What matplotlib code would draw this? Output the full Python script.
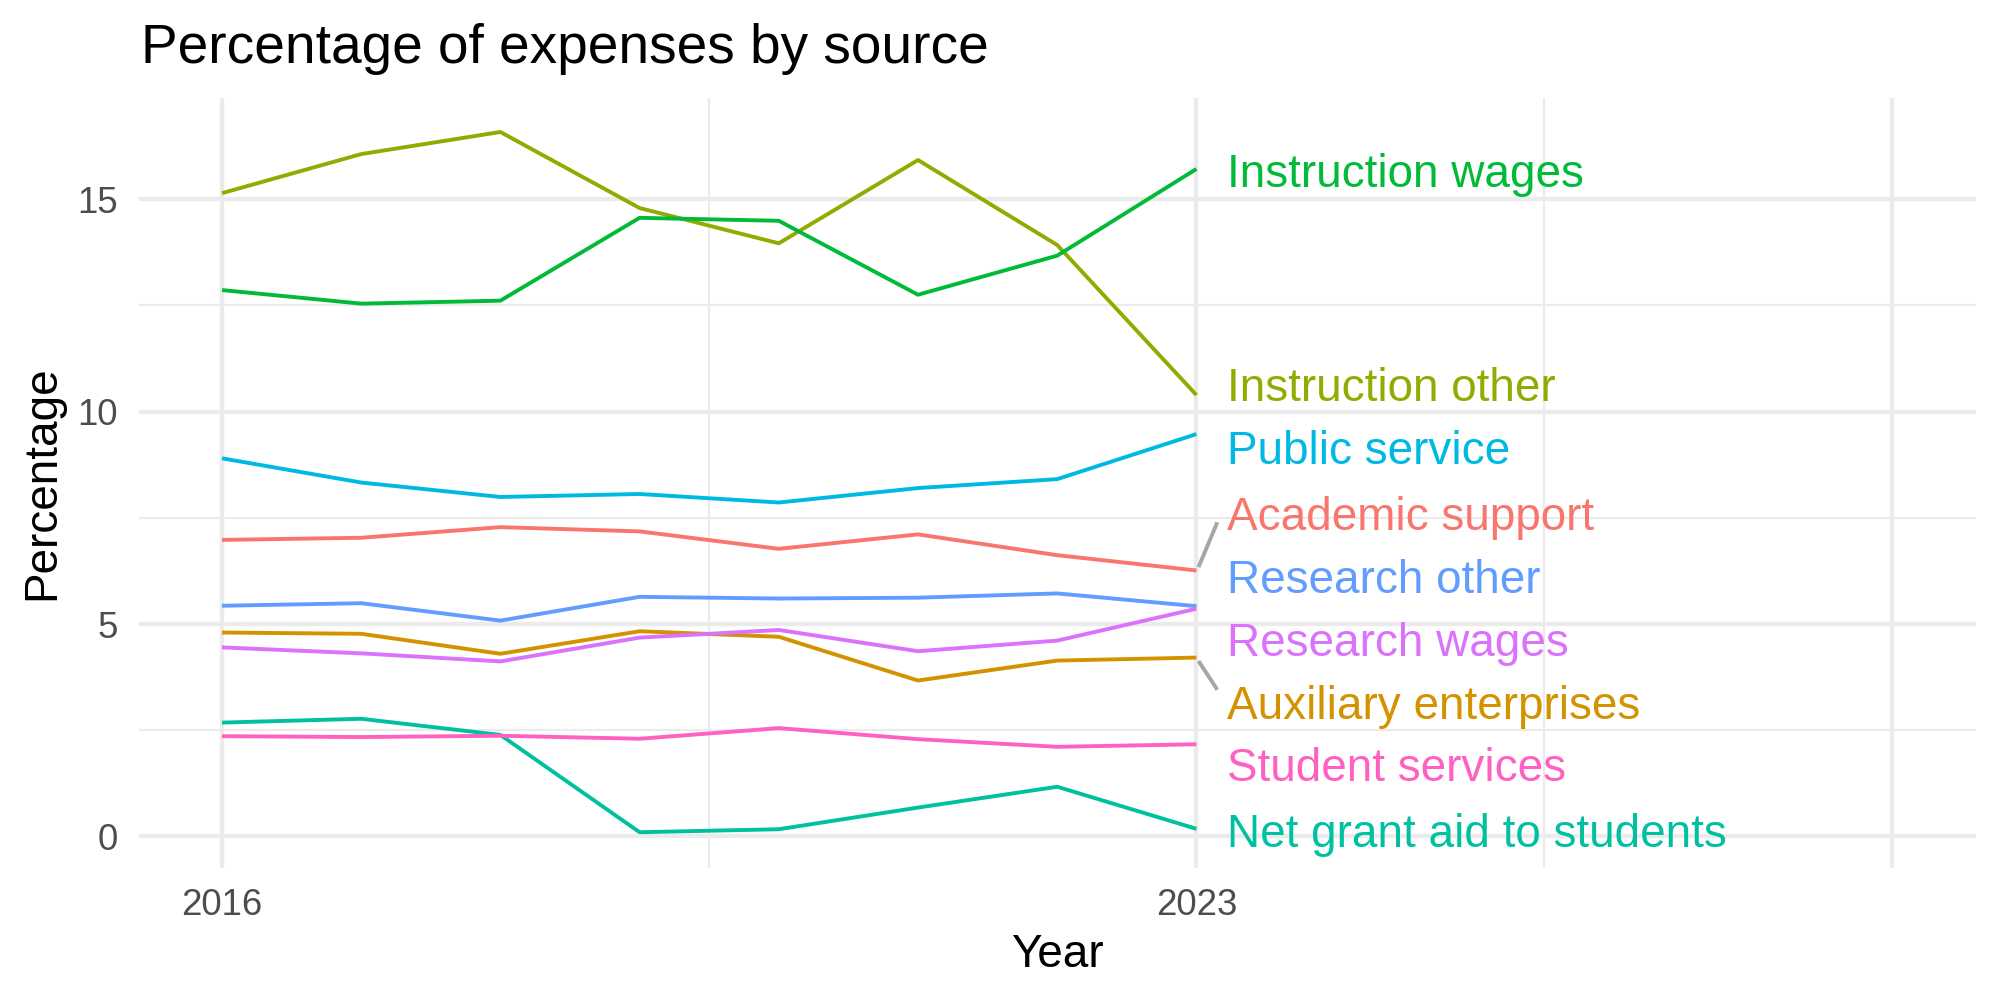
import numpy as np
import matplotlib
matplotlib.use("Agg")
import matplotlib.pyplot as plt

plt.rcParams['font.family'] = ['Liberation Sans', 'DejaVu Sans']

years = [2016, 2017, 2018, 2019, 2020, 2021, 2022, 2023]

# percentages, one list per source
academic_support = [6.98, 7.03, 7.28, 7.18, 6.77, 7.11, 6.62, 6.26]
auxiliary_enterprises = [4.80, 4.77, 4.30, 4.83, 4.70, 3.67, 4.14, 4.21]
instruction_other = [15.14, 16.06, 16.58, 14.79, 13.96, 15.92, 13.92, 10.39]
instruction_wages = [12.86, 12.54, 12.61, 14.56, 14.49, 12.75, 13.67, 15.71]
net_grant_aid = [2.68, 2.77, 2.39, 0.10, 0.17, 0.68, 1.17, 0.18]
public_service = [8.90, 8.33, 7.99, 8.06, 7.86, 8.20, 8.41, 9.47]
research_other = [5.43, 5.49, 5.08, 5.64, 5.60, 5.62, 5.72, 5.42]
research_wages = [4.45, 4.31, 4.12, 4.68, 4.86, 4.36, 4.61, 5.36]
student_services = [2.36, 2.34, 2.37, 2.30, 2.55, 2.29, 2.11, 2.17]

names = ['Academic support', 'Auxiliary enterprises', 'Instruction other',
         'Instruction wages', 'Net grant aid to students', 'Public service',
         'Research other', 'Research wages', 'Student services']
series = [academic_support, auxiliary_enterprises, instruction_other,
          instruction_wages, net_grant_aid, public_service,
          research_other, research_wages, student_services]
colors = ['#F8766D', '#D39200', '#93AA00', '#00BA38', '#00C19F',
          '#00B9E3', '#619CFF', '#DB72FB', '#FF61C3']

fig = plt.figure(figsize=(10, 5), dpi=200)
ax = fig.add_axes([0.0695, 0.132, 0.9185, 0.770])

for s, c in zip(series, colors):
    ax.plot(years, s, color=c, lw=1.4, solid_capstyle='butt', zorder=3)

# spread the end labels apart (simple repel: keep order, min gap, least shift)
gap = 1.48
last = np.array([s[-1] for s in series])
order = np.argsort(last)
w = last[order] - gap * np.arange(len(last))
blocks = []
for v in w:
    blocks.append([v, 1])
    while len(blocks) > 1 and blocks[-2][0] > blocks[-1][0]:
        v2, n2 = blocks.pop()
        v1, n1 = blocks.pop()
        blocks.append([(v1 * n1 + v2 * n2) / (n1 + n2), n1 + n2])
fit = np.concatenate([[b[0]] * b[1] for b in blocks])
lab_y = np.empty(len(last))
lab_y[order] = fit + gap * np.arange(len(last))

x_end = years[-1]
for name, c, v, ly in zip(names, colors, last, lab_y):
    ax.text(x_end + 0.22, ly - 0.03, name, color=c, fontsize=16.5,
            ha='left', va='center_baseline', zorder=4)
    if abs(ly - v) > 0.9:
        d = np.sign(ly - v)
        ax.plot([x_end + 0.015, x_end + 0.15], [v + 0.08 * d, ly - 0.25 * d],
                color='#A6A6A6', lw=1.4, solid_capstyle='butt', zorder=2)

ax.set_xlim(2015.404, 2028.60)
ax.set_ylim(-0.742, 17.38)
ax.set_xticks([2016, 2023, 2028])
ax.set_xticklabels(['2016', '2023', ''])
ax.set_xticks([2019.5, 2025.5], minor=True)
ax.set_yticks([0, 5, 10, 15])
ax.set_yticks([2.5, 7.5, 12.5], minor=True)
ax.grid(which='major', color='#EBEBEB', lw=1.55, zorder=0)
ax.grid(which='minor', color='#EBEBEB', lw=0.78, zorder=0)
ax.set_axisbelow(True)
for sp in ax.spines.values():
    sp.set_visible(False)
ax.tick_params(which='both', length=0, labelsize=13.2, labelcolor='#4D4D4D')
ax.tick_params(axis='x', pad=7.2)
ax.tick_params(axis='y', pad=7.5)

fig.text(0.0705, 0.937, 'Percentage of expenses by source', fontsize=19.8,
         ha='left', va='baseline')
fig.text(0.5285, 0.033, 'Year', fontsize=16.5, ha='center', va='baseline')
fig.text(0.021, 0.517, 'Percentage', fontsize=16.5, rotation=90,
         ha='center', va='center')

fig.savefig('out.png', dpi=200)
